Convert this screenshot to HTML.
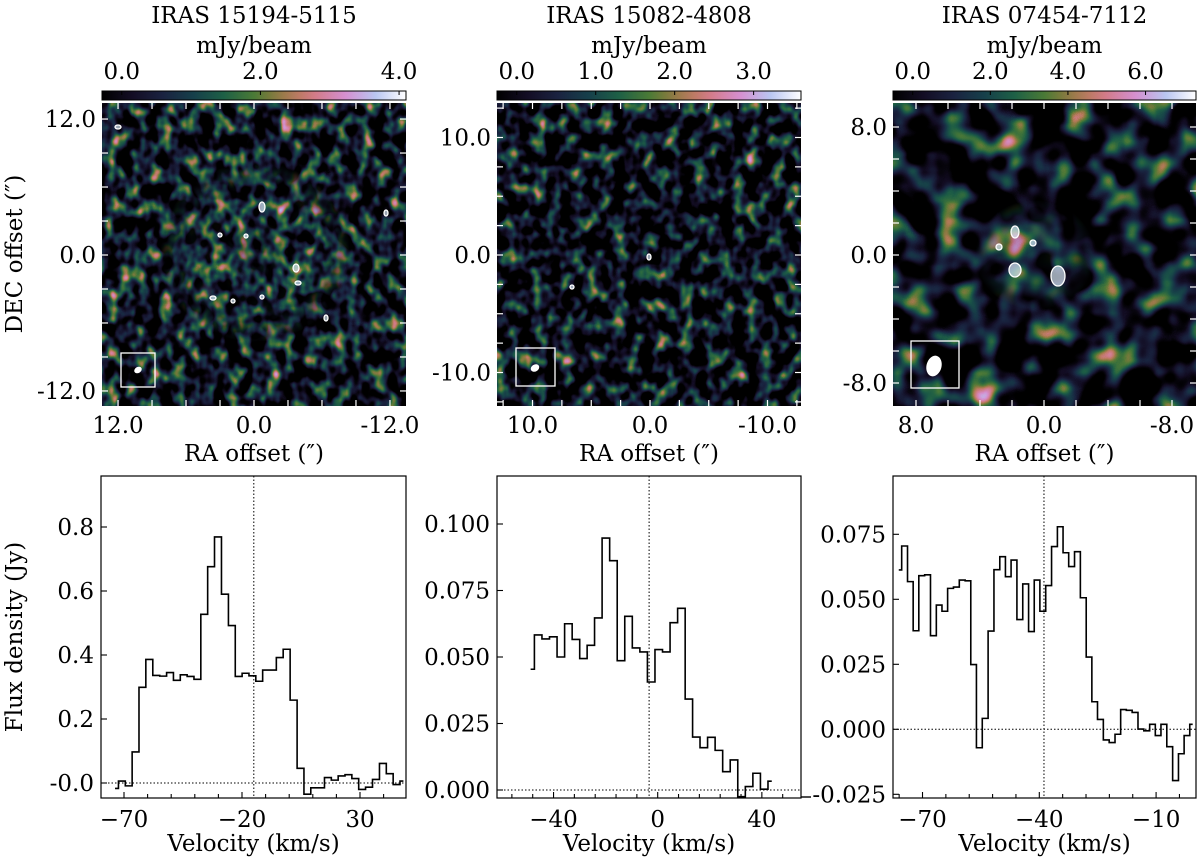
<!DOCTYPE html>
<html><head><meta charset="utf-8">
<style>
html,body{margin:0;padding:0;background:#fff;}
svg{display:block;font-family:"DejaVu Serif","Liberation Serif",serif;}
</style></head>
<body>
<svg id="fig" width="1200" height="862" viewBox="0 0 1200 862" xmlns="http://www.w3.org/2000/svg">
<defs id="defs">
  <linearGradient id="cmapGrad" x1="0" x2="1" y1="0" y2="0"></linearGradient>
  <radialGradient id="ringGrad" cx="0.5" cy="0.5" r="0.5">
    <stop offset="0" stop-color="#fff" stop-opacity="0.5"/>
    <stop offset="0.35" stop-color="#fff" stop-opacity="1"/>
    <stop offset="0.75" stop-color="#fff" stop-opacity="0.9"/>
    <stop offset="1" stop-color="#fff" stop-opacity="0"/>
  </radialGradient>
  <radialGradient id="coreGrad3" cx="0.5" cy="0.5" r="0.5">
    <stop offset="0" stop-color="#fff" stop-opacity="1"/>
    <stop offset="0.6" stop-color="#fff" stop-opacity="0.8"/>
    <stop offset="1" stop-color="#fff" stop-opacity="0"/>
  </radialGradient>
  <mask id="ringMask"><rect x="0" y="0" width="1200" height="862" fill="#000"/><ellipse cx="255" cy="252" rx="95" ry="90" fill="url(#ringGrad)"/></mask>
  <mask id="coreMask3"><rect x="0" y="0" width="1200" height="862" fill="#000"/><ellipse cx="1035" cy="255" rx="60" ry="55" fill="url(#coreGrad3)"/></mask>
</defs>
<g id="root"></g>
</svg>
<script>
// ---------------- spectrum data ----------------
const vel1 = [-73.8,-70.9,-68.0,-65.1,-62.2,-59.3,-56.3,-53.4,-50.5,-47.6,-44.7,-41.8,-38.9,-36.0,-33.1,-30.2,-27.2,-24.3,-21.4,-18.5,-15.6,-12.7,-9.8,-6.9,-4.0,-1.1,1.9,4.8,7.7,10.6,13.5,16.4,19.3,22.2,25.1,28.0,30.9,33.8,36.8,39.7,42.6,45.5,48.4];
const flux1 = [-0.017,0.006,-0.009,0.097,0.299,0.386,0.336,0.334,0.345,0.321,0.338,0.333,0.324,0.527,0.676,0.769,0.590,0.492,0.333,0.343,0.335,0.318,0.353,0.353,0.392,0.418,0.259,0.046,-0.035,-0.015,-0.015,0.017,0.009,0.022,0.026,0.014,-0.020,-0.013,0.011,0.061,0.029,-0.005,0.006];
const vsys1 = -15.0;
const xt1 = [-70,-20,30];
const yt1 = [0.0,0.2,0.4,0.6,0.8];
const ytl1 = ["-0.0","0.2","0.4","0.6","0.8"];

const vel2 = [-48.8,-45.9,-43.0,-40.1,-37.2,-34.3,-31.4,-28.5,-25.7,-22.8,-19.9,-17.0,-14.1,-11.2,-8.3,-5.4,-2.5,0.4,3.3,6.2,9.1,12.0,14.8,17.7,20.6,23.5,26.4,29.3,32.2,35.1,38.0,40.9,43.8];
const flux2 = [0.0454,0.0583,0.0568,0.0576,0.0500,0.0625,0.0566,0.0494,0.0544,0.0647,0.0947,0.0862,0.0486,0.0653,0.0534,0.0519,0.0406,0.0528,0.0519,0.0629,0.0683,0.0342,0.0199,0.0159,0.0198,0.0149,0.0069,0.0113,-0.0025,0.0013,0.0063,0.0003,0.0033];
const vsys2 = -3.3;
const xt2 = [-40,0,40];
const yt2 = [0.000,0.025,0.050,0.075,0.100];
const ytl2 = ["0.000","0.025","0.050","0.075","0.100"];

const vel3 = [-76.1,-74.6,-73.1,-71.7,-70.2,-68.7,-67.2,-65.7,-64.3,-62.8,-61.3,-59.8,-58.3,-56.9,-55.4,-53.9,-52.4,-50.9,-49.4,-48.0,-46.5,-45.0,-43.5,-42.0,-40.6,-39.1,-37.6,-36.1,-34.6,-33.2,-31.7,-30.2,-28.7,-27.2,-25.8,-24.3,-22.8,-21.3,-19.8,-18.4,-16.9,-15.4,-13.9,-12.4,-10.9,-9.5,-8.0,-6.5,-5.0,-3.5,-2.1,-0.6];
const flux3 = [0.0613,0.0705,0.0568,0.0379,0.0591,0.0594,0.0360,0.0478,0.0454,0.0542,0.0547,0.0574,0.0571,0.0249,-0.0071,0.0042,0.0378,0.0614,0.0664,0.0587,0.0651,0.0422,0.0559,0.0376,0.0574,0.0454,0.0553,0.0703,0.0779,0.0679,0.0626,0.0683,0.0506,0.0278,0.0106,0.0038,-0.0041,-0.0051,-0.0019,0.0076,0.0073,0.0065,0.0001,-0.0006,0.0019,-0.0024,0.0019,-0.0067,-0.0197,-0.0094,-0.0024,0.0019];
const vsys3 = -38.8;
const xt3 = [-70,-40,-10];
const yt3 = [-0.025,0.000,0.025,0.050,0.075];
const ytl3 = ["-0.025","0.000","0.025","0.050","0.075"];

const titles = ["IRAS 15194-5115","IRAS 15082-4808","IRAS 07454-7112"];
const cbTicks1 = [0,2,4]; const cbTicks2 = [0,1,2,3]; const cbTicks3 = [0,2,4,6];
const offTicks1 = [12,0,-12]; const offTicks2 = [10,0,-10]; const offTicks3 = [8,0,-8];

const FS = 23;
const NS = "http://www.w3.org/2000/svg";
const root = document.getElementById('root');
const defs = document.getElementById('defs');
function el(tag, attrs, parent){
  const e = document.createElementNS(NS, tag);
  for (const k in attrs) e.setAttribute(k, attrs[k]);
  (parent||root).appendChild(e);
  return e;
}
function txt(x,y,s,size,anchor,parent,extra){
  const t = el('text',Object.assign({x:x,y:y,'font-size':size,'text-anchor':anchor||'middle',fill:'#000'},extra||{}),parent);
  t.textContent = s; return t;
}

const stops = [[0,[0,0,0]],[0.1,[19,13,36]],[0.2,[26,34,64]],[0.3,[22,63,74]],[0.4,[29,96,70]],[0.5,[74,122,54]],[0.56,[125,122,60]],[0.63,[182,122,88]],[0.7,[210,123,136]],[0.8,[213,143,207]],[0.9,[185,198,241]],[1,[255,255,255]]];
function cmap(t){
  t=Math.max(0,Math.min(1,t));
  for(let i=1;i<stops.length;i++){ if(t<=stops[i][0]){ const a=stops[i-1],b=stops[i]; const f=(t-a[0])/(b[0]-a[0]); return a[1].map((v,k)=>v+(b[1][k]-v)*f);} }
  return [255,255,255];
}
const cg = document.getElementById('cmapGrad');
for(let i=0;i<=20;i++){ const c=cmap(i/20); const s=document.createElementNS(NS,'stop'); s.setAttribute('offset',i/20); s.setAttribute('stop-color','rgb('+c.map(Math.round).join(',')+')'); cg.appendChild(s);}

function mkFilter(id,freq,seed,lo,hi,oct){
  const f = el('filter',{id:id,x:0,y:0,width:1,height:1,'color-interpolation-filters':'sRGB'},defs);
  el('feTurbulence',{type:'fractalNoise',baseFrequency:freq,numOctaves:oct||2,seed:seed,result:'n'},f);
  el('feColorMatrix',{type:'matrix',values:'1 0 0 0 0 1 0 0 0 0 1 0 0 0 0 0 0 0 0 1'},f);
  const ct = el('feComponentTransfer',{},f);
  const R=[],G=[],B=[];
  for(let i=0;i<=32;i++){ const x=i/32; const c=cmap((x-lo)/(hi-lo)); R.push((c[0]/255).toFixed(3));G.push((c[1]/255).toFixed(3));B.push((c[2]/255).toFixed(3)); }
  el('feFuncR',{type:'table',tableValues:R.join(' ')},ct);
  el('feFuncG',{type:'table',tableValues:G.join(' ')},ct);
  el('feFuncB',{type:'table',tableValues:B.join(' ')},ct);
}
mkFilter('nz1','0.075 0.06',3,0.42,0.98,2);
mkFilter('nz1r','0.08 0.065',7,0.36,0.95,2);
mkFilter('nz2','0.075 0.06',11,0.44,1.03,2);
mkFilter('nz3','0.032',5,0.45,0.98,2);
mkFilter('nz3c','0.035',9,0.34,0.95,2);

const panels = [
  {x0:102,x1:406,cx:254,scale:11.33,step:3,ticks:offTicks1,cb:cbTicks1,cbmax:4.1,filt:'nz1',beam:{x:121,y:353,w:34,h:34,cx:138,cy:370,rx:4,ry:3,rot:-30}},
  {x0:497,x1:801,cx:650,scale:11.75,step:2.5,ticks:offTicks2,cb:cbTicks2,cbmax:3.6,filt:'nz2',beam:{x:516,y:348,w:39,h:38,cx:535,cy:368,rx:4.5,ry:3.5,rot:-30}},
  {x0:893,x1:1196,cx:1044,scale:16,step:2,ticks:offTicks3,cb:cbTicks3,cbmax:7.3,filt:'nz3',beam:{x:911,y:341,w:48,h:47,cx:934,cy:366,rx:7.5,ry:10.5,rot:15}}
];
const imgTop=103, imgBot=406, imgCy=255;
panels.forEach((p,pi)=>{
  const g = el('g',{});
  
  
  const tt = txt((p.x0+p.x1)/2,23,titles[pi],FS,'middle',g);
  
  
  const ut = txt((p.x0+p.x1)/2,53,'mJy/beam',FS,'middle',g);
  
  
  const cb = el('rect',{x:p.x0,y:91,width:p.x1-p.x0,height:9,fill:'url(#cmapGrad)',stroke:'#000','stroke-width':1},g);
  
  
  p.cb.forEach(v=>{
    const xp = p.x0 + (p.x1-p.x0)*(0.065 + 0.935*v/p.cbmax);
    el('line',{x1:xp,x2:xp,y1:91,y2:95,stroke:'#000','stroke-width':1},g);
    const l = txt(xp,79,v.toFixed(1),FS,'middle',g);
    
    
  });
  const im = el('rect',{x:p.x0,y:imgTop,width:p.x1-p.x0,height:imgBot-imgTop,filter:'url(#'+p.filt+')'},g);
  
  
  if(pi===0){
    const ov = el('rect',{x:p.x0,y:imgTop,width:p.x1-p.x0,height:imgBot-imgTop,filter:'url(#nz1r)',mask:'url(#ringMask)'},g);
    
    
  }
  if(pi===2){
    const ov = el('rect',{x:p.x0,y:imgTop,width:p.x1-p.x0,height:imgBot-imgTop,filter:'url(#nz3c)',mask:'url(#coreMask3)'},g);
    
    
  }
  for(let k=-6;k<=6;k++){
    const off = k*p.step;
    const x = p.cx - off*p.scale, y = imgCy - off*p.scale;
    if(x>p.x0+2 && x<p.x1-2){
      el('line',{x1:x,x2:x,y1:imgBot,y2:imgBot-6,stroke:'#fff','stroke-width':1.2},g);
      el('line',{x1:x,x2:x,y1:imgTop,y2:imgTop+6,stroke:'#fff','stroke-width':1.2},g);
    }
    if(y>imgTop+2 && y<imgBot-2){
      el('line',{x1:p.x0,x2:p.x0+6,y1:y,y2:y,stroke:'#fff','stroke-width':1.2},g);
      el('line',{x1:p.x1,x2:p.x1-6,y1:y,y2:y,stroke:'#fff','stroke-width':1.2},g);
    }
  }
  p.ticks.forEach(v=>{
    const x = p.cx - v*p.scale, y = imgCy - v*p.scale;
    const lx = txt(x,433,v.toFixed(1),FS,'middle',g);
    
    
    const ly = txt(p.x0-6,y+8,v.toFixed(1),FS,'end',g);
    
    
  });
  const xl = txt((p.x0+p.x1)/2,461,'RA offset (″)',FS,'middle',g);
  
  
  const b = p.beam;
  const bb = el('rect',{x:b.x,y:b.y,width:b.w,height:b.h,fill:'none',stroke:'#fff','stroke-width':1.3},g);
  
  
  const be = el('ellipse',{cx:b.cx,cy:b.cy,rx:b.rx,ry:b.ry,fill:'#fff',transform:'rotate('+b.rot+' '+b.cx+' '+b.cy+')'},g);
  
  
});
const dec = txt(0,0,'DEC offset (″)',FS,'middle',root,{transform:'translate(22,254) rotate(-90)'});



const contours = [[262,207,3,5],[386,213,2,3],[220,235,2,2],[246,236,2,2],[296,268,3,4],[298,283,3,2],[213,298,3,2],[233,301,2,2],[262,297,2,2],[326,318,2,3],[118,127,3,2],[649,257,2,3],[572,287,2,2],[1015,232,4,6],[1033,243,3,3],[999,247,3,3],[1015,270,6,7],[1058,276,7,10]];
contours.forEach(c=>{
  const e = el('ellipse',{cx:c[0],cy:c[1],rx:c[2],ry:c[3],fill:'#d8e8f8','fill-opacity':0.7,stroke:'#fff','stroke-width':1.3});
  
  
});

const specs = [
  {x0:101,x1:406,y0:476,y1:798,vx:-70,px:124,sx:2.36,minor:10,py:783,sy:320,vel:vel1,flux:flux1,vsys:vsys1,xt:xt1,yt:yt1,ytl:ytl1},
  {x0:497,x1:801,y0:476,y1:798,vx:0,px:657.7,sx:2.604,minor:8,py:790,sy:2660,vel:vel2,flux:flux2,vsys:vsys2,xt:xt2,yt:yt2,ytl:ytl2},
  {x0:893,x1:1196,y0:476,y1:798,vx:-40,px:1039.3,sx:3.893,minor:6,py:729.3,sy:2600,vel:vel3,flux:flux3,vsys:vsys3,xt:xt3,yt:yt3,ytl:ytl3}
];
specs.forEach((s,si)=>{
  const g = el('g',{});
  
  
  const X = v => s.px + (v - s.vx)*s.sx;
  const Y = f => s.py - f*s.sy;
  const fr = el('rect',{x:s.x0,y:s.y0,width:s.x1-s.x0,height:s.y1-s.y0,fill:'none',stroke:'#000','stroke-width':1.2},g);
  
  
  const vmin = s.vx + (s.x0 - s.px)/s.sx, vmax = s.vx + (s.x1 - s.px)/s.sx;
  const k0 = Math.ceil((vmin - s.xt[0])/s.minor), k1 = Math.floor((vmax - s.xt[0])/s.minor);
  for(let k=k0;k<=k1;k++){
    const v = s.xt[0] + k*s.minor; const x = X(v);
    const major = s.xt.some(t=>Math.abs(t-v)<0.01);
    el('line',{x1:x,x2:x,y1:s.y1,y2:s.y1-(major?6:4),stroke:'#000','stroke-width':1.1},g);
  }
  s.xt.forEach(v=>{
    const l = txt(X(v),827,String(v).replace('-','−'),FS,'middle',g);
    
    
  });
  s.yt.forEach((v,i)=>{
    const y = Y(v);
    el('line',{x1:s.x0,x2:s.x0+6,y1:y,y2:y,stroke:'#000','stroke-width':1.1},g);
    const l = txt(s.x0-7,y+8,s.ytl[i],FS,'end',g);
    
    
  });
  const xl = txt((s.x0+s.x1)/2,851,'Velocity (km/s)',FS,'middle',g);
  
  
  const h = el('line',{x1:s.x0,x2:s.x1,y1:Y(0),y2:Y(0),stroke:'#000','stroke-width':1,'stroke-dasharray':'1.5,2'},g);
  
  
  const vl = el('line',{x1:X(s.vsys),x2:X(s.vsys),y1:s.y0,y2:s.y1,stroke:'#000','stroke-width':1,'stroke-dasharray':'1.5,2'},g);
  
  
  let d = '';
  const n = s.vel.length;
  for(let i=0;i<n;i++){
    const xl_ = i===0 ? X(s.vel[0]) : (X(s.vel[i-1])+X(s.vel[i]))/2;
    const xr_ = i===n-1 ? X(s.vel[n-1]) : (X(s.vel[i])+X(s.vel[i+1]))/2;
    const y = Y(s.flux[i]);
    d += (i===0?'M':'L') + xl_.toFixed(2)+','+y.toFixed(2)+' L'+xr_.toFixed(2)+','+y.toFixed(2)+' ';
  }
  const pth = el('path',{d:d,fill:'none',stroke:'#000','stroke-width':1.6},g);
  
  
});
const sd = el('line',{x1:801,x2:811,y1:797,y2:797,stroke:'#000','stroke-width':1.4});


const fy = txt(0,0,'Flux density (Jy)',FS,'middle',root,{transform:'translate(22,637) rotate(-90)'});


</script>
</body></html>
